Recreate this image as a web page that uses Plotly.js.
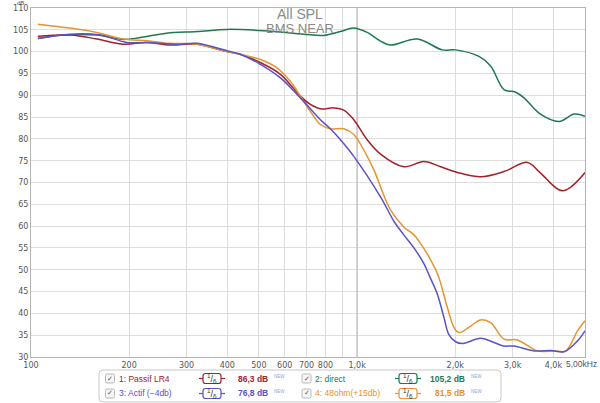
<!DOCTYPE html>
<html>
<head>
<meta charset="utf-8">
<script src="https://cdn.plot.ly/plotly-3.0.1.min.js"></script>
<style>html,body{margin:0;padding:0;background:#fff;}#chart{width:600px;height:403px;}</style>
</head>
<body>
<div id="chart"></div>
<script>
// ---- data ----
const passifFreq = [105,132,159,192,227,267,323,399,438,505,582,670,719,772,848,910,977,1074,1180,1391,1603,1804,2078,2393,2822,3330,3660,4266,5000];
const passifDb   = [103.5,103.8,102.9,101.7,102.1,101.5,101.7,100.0,99.4,97.5,94.8,89.8,87.9,86.9,87.1,86.6,84.4,79.8,76.5,73.6,74.8,73.6,72.1,71.3,72.5,74.6,72.1,68.1,72.3];

const directFreq = [105,121,159,192,215,260,323,400,516,686,789,889,975,1074,1180,1266,1530,1826,2005,2365,2568,2822,3065,3251,3660,4164,4630,5000];
const directDb   = [103.0,103.7,103.8,102.8,103.2,104.2,104.6,105.1,104.8,104.0,103.7,104.6,105.4,104.4,102.4,101.5,102.9,100.4,100.4,98.9,96.7,91.3,90.7,89.4,85.6,84.0,85.7,85.2];

const actifFreq = [105,132,163,197,227,280,323,399,438,505,582,670,772,828,889,977,1180,1300,1391,1494,1603,1673,1761,1846,1911,2005,2116,2393,2650,2822,3029,3489,3926,4314,4743,5000];
const actifDb   = [103.0,104.0,103.8,102.1,102.1,101.7,101.9,100.2,99.4,97.1,94.0,89.4,84.4,82.3,79.8,76.0,66.7,61.0,58.0,55.0,51.4,48.3,44.5,39.1,35.2,33.5,33.1,34.3,33.2,32.5,32.5,31.4,31.5,31.2,33.7,36.0];

const ohmFreq = [105,132,159,192,227,267,323,389,438,505,568,624,670,719,772,828,910,977,1074,1126,1266,1391,1494,1566,1642,1770,1891,1982,2053,2230,2393,2568,2822,3102,3574,4019,4365,4743,5000];
const ohmDb   = [106.3,105.4,104.4,102.9,102.5,101.9,101.7,100.2,99.4,98.2,96.3,93.2,89.8,86.3,83.3,82.3,82.3,81.0,76.0,72.9,63.7,59.8,58.0,56.0,53.6,48.8,41.4,36.8,35.6,37.1,38.5,37.9,34.1,33.9,31.4,31.4,31.4,36.0,38.3];

const seriesNames  = ["1: Passif LR4", "2: direct", "3: Actif (\u22124db)", "4: 48ohm(+15db)"];
const seriesValues = ["86,3 dB", "105,2 dB", "76,8 dB", "81,5 dB"];
const xTickVals = [100,200,300,400,500,600,700,800,900,1000,2000,3000,4000,5000];
const xTickText = ["100","200","300","400","500","600","700","800","","1,0k","2,0k","3,0k","4,0k",""];
const xLastLabel = "5,00kHz";
const yTickVals = [30,35,40,45,50,55,60,65,70,75,80,85,90,95,100,105,110];
const titleLines = ["All SPL", "BMS NEAR"];

// ---- styles ----
const colors = {passif:"#a3202c", direct:"#1d7a50", actif:"#5a52c8", ohm:"#e5942f"};
const L=31, R=585, T=8, B=357;
const px = x => (x-L)/(R-L);
const py = y => (B-y)/(B-T);
const FONT = "Liberation Sans, Arial, sans-serif";

function rrect(x0,y0,x1,y1,r){
  const X=px, Y=py;
  return `M ${X(x0+r)},${Y(y0)} L ${X(x1-r)},${Y(y0)} Q ${X(x1)},${Y(y0)} ${X(x1)},${Y(y0+r)} L ${X(x1)},${Y(y1-r)} Q ${X(x1)},${Y(y1)} ${X(x1-r)},${Y(y1)} L ${X(x0+r)},${Y(y1)} Q ${X(x0)},${Y(y1)} ${X(x0)},${Y(y1-r)} L ${X(x0)},${Y(y0+r)} Q ${X(x0)},${Y(y0)} ${X(x0+r)},${Y(y0)} Z`;
}

function line(x, y, color){
  return {x:x, y:y, type:"scatter", mode:"lines", line:{color:color, width:1.5, shape:"spline", smoothing:1}, hoverinfo:"skip", showlegend:false};
}

const traces = [
  {x:[1000,1000], y:[30,110], type:"scatter", mode:"lines", line:{color:"#c4c4c4", width:1.5}, hoverinfo:"skip", showlegend:false},
  line(directFreq, directDb, colors.direct),
  line(passifFreq, passifDb, colors.passif),
  line(ohmFreq, ohmDb, colors.ohm),
  line(actifFreq, actifDb, colors.actif)
];

const shapes = [];
const annotations = [];

// title inside plot
annotations.push({xref:"paper", yref:"paper", x:px(300), y:py(14), text:titleLines[0], showarrow:false, xanchor:"center", yanchor:"middle", font:{family:FONT, size:14, color:"#8a8a8a"}});
annotations.push({xref:"paper", yref:"paper", x:px(300), y:py(28), text:titleLines[1], showarrow:false, xanchor:"center", yanchor:"middle", font:{family:FONT, size:13, color:"#8a8a8a"}});
// dB unit label
annotations.push({xref:"paper", yref:"paper", x:px(20), y:py(3), text:"dB", showarrow:false, xanchor:"center", yanchor:"middle", borderpad:0, font:{family:FONT, size:6, color:"#555"}});
// last x tick label (kept inside the page like the reference)
annotations.push({xref:"paper", yref:"paper", x:px(581), y:py(364), text:xLastLabel, showarrow:false, xanchor:"center", yanchor:"middle", font:{family:FONT, size:8.5, color:"#555"}});

// legend box
shapes.push({type:"path", xref:"paper", yref:"paper", path:rrect(99,370,501,402,4), line:{color:"#c8c8c8", width:1}, fillcolor:"#ffffff", layer:"above"});

const legendItems = [
  {name:seriesNames[0], value:seriesValues[0], color:colors.passif, col:0, row:0},
  {name:seriesNames[1], value:seriesValues[1], color:colors.direct, col:1, row:0},
  {name:seriesNames[2], value:seriesValues[2], color:colors.actif,  col:0, row:1},
  {name:seriesNames[3], value:seriesValues[3], color:colors.ohm,    col:1, row:1}
];
const colPos = [
  {chk:110, name:117, box:212, val:270},
  {chk:306.5, name:313, box:408, val:467}
];
const rowY = [378.5, 393.5];

legendItems.forEach(it => {
  const c = colPos[it.col], y = rowY[it.row];
  // checkbox
  shapes.push({type:"path", xref:"paper", yref:"paper", path:rrect(c.chk-4.5,y-4.5,c.chk+4.5,y+4.5,1.5), line:{color:"#a8a8a8", width:0.8}, fillcolor:"#f6f6f6", layer:"above"});
  annotations.push({xref:"paper", yref:"paper", x:px(c.chk), y:py(y), text:"\u2713", showarrow:false, xanchor:"center", yanchor:"middle", font:{family:"DejaVu Sans", size:7, color:"#555"}});
  // name
  annotations.push({xref:"paper", yref:"paper", x:px(c.name), y:py(y), text:it.name, showarrow:false, xanchor:"left", yanchor:"middle", font:{family:FONT, size:8.5, color:it.color}});
  // 1/6 smoothing box
  shapes.push({type:"line", xref:"paper", yref:"paper", x0:px(c.box-13), x1:px(c.box-9), y0:py(y), y1:py(y), line:{color:it.color, width:1.2}, layer:"above"});
  shapes.push({type:"line", xref:"paper", yref:"paper", x0:px(c.box+9), x1:px(c.box+13), y0:py(y), y1:py(y), line:{color:it.color, width:1.2}, layer:"above"});
  shapes.push({type:"path", xref:"paper", yref:"paper", path:rrect(c.box-9,y-5,c.box+9,y+5,2.5), line:{color:it.color, width:1.2}, fillcolor:"#ffffff", layer:"above"});
  annotations.push({xref:"paper", yref:"paper", x:px(c.box), y:py(y), text:"<sup>1</sup>/<sub>6</sub>", showarrow:false, xanchor:"center", yanchor:"middle", font:{family:FONT, size:9, color:"#333"}});
  // value
  annotations.push({xref:"paper", yref:"paper", x:px(c.val), y:py(y), text:"<b>"+it.value+"</b>", showarrow:false, xanchor:"right", yanchor:"middle", font:{family:FONT, size:8.5, color:it.color}});
  annotations.push({xref:"paper", yref:"paper", x:px(c.val+2), y:py(y-2), text:"NEW", showarrow:false, xanchor:"left", yanchor:"middle", font:{family:FONT, size:4.5, color:"#8fa3e0"}});
});

const layout = {
  width:600, height:403,
  margin:{l:L, r:600-R, t:T, b:403-B, pad:0},
  paper_bgcolor:"#ffffff", plot_bgcolor:"#ffffff",
  showlegend:false,
  xaxis:{type:"log", range:[2, Math.log10(5000)], tickmode:"array", tickvals:xTickVals, ticktext:xTickText,
         showgrid:true, gridcolor:"#dedede", gridwidth:1, showline:true, mirror:true, linecolor:"#b4b4b4", linewidth:1,
         ticks:"", zeroline:false, tickfont:{family:"DejaVu Sans", size:8, color:"#555"}, fixedrange:true},
  yaxis:{range:[30,110], tickmode:"array", tickvals:yTickVals, showgrid:true, gridcolor:"#dedede", gridwidth:1,
         showline:true, mirror:true, linecolor:"#b4b4b4", linewidth:1, ticks:"", zeroline:false,
         tickfont:{family:"DejaVu Sans", size:8, color:"#555"}, fixedrange:true},
  shapes:shapes,
  annotations:annotations
};

Plotly.newPlot("chart", traces, layout, {staticPlot:true, displayModeBar:false});
</script>
</body>
</html>
